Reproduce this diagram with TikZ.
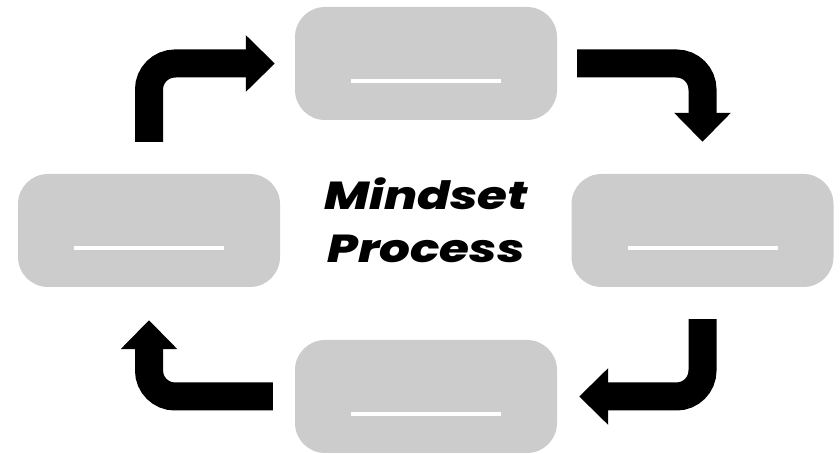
\documentclass[tikz,border=0pt]{standalone}
\usepackage{fontspec}
\setmainfont{Poppins}
\newfontfamily\titlefont[FakeStretch=1.24]{Poppins ExtraBold Italic}
\usetikzlibrary{arrows.meta}
\begin{document}
\begin{tikzpicture}[x=1pt,y=1pt,
  stage/.style={fill=black!20,rounded corners=30pt,minimum width=262pt,minimum height=113pt,inner sep=0pt},
  blank/.style={white,line width=4pt},
  flow/.style={line width=28pt,rounded corners=26pt,-{Triangle[length=29pt,width=55pt]}}]
  \useasboundingbox (0,0) rectangle (840,454);
  \node[stage] (top) at (426,390.5) {};
  \node[stage] (left) at (149,223.5) {};
  \node[stage] (right) at (702.5,223.5) {};
  \node[stage] (bottom) at (426,57.5) {};
  \foreach \n in {top,left,right,bottom}
    \draw[blank] ([xshift=-75pt,yshift=-17.5pt]\n.center) -- ([xshift=75pt,yshift=-17.5pt]\n.center);
  \node[align=center,font=\titlefont\fontsize{39}{53}\selectfont] (title) at (426,234) {Mindset\\Process};
  \draw[flow] ([yshift=32pt]left.north) |- ([xshift=-20pt]top.west);
  \draw[flow] ([xshift=20pt]top.east) -| ([yshift=32pt]right.north);
  \draw[flow] ([yshift=-32pt]right.south) |- ([xshift=22pt]bottom.east);
  \draw[flow] ([xshift=-22pt]bottom.west) -| ([yshift=-33pt]left.south);
\end{tikzpicture}
\end{document}
